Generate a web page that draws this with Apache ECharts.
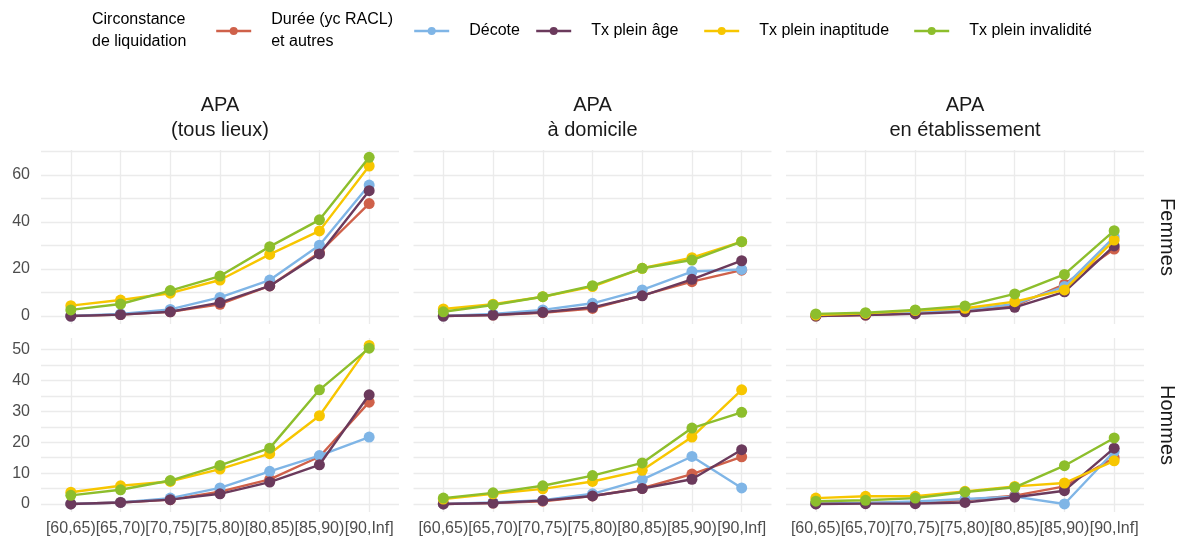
<!DOCTYPE html>
<html><head><meta charset="utf-8">
<script src="https://cdn.jsdelivr.net/npm/echarts@6/dist/echarts.min.js"></script>
<style>html,body{margin:0;padding:0;background:#fff}#c{width:1183px;height:545px}</style>
</head><body><div id="c"></div><script>
// ---- data ----
const categories = ["[60,65)","[65,70)","[70,75)","[75,80)","[80,85)","[85,90)","[90,Inf]"];
const seriesNames = ["Durée (yc RACL)\net autres","Décote","Tx plein âge","Tx plein inaptitude","Tx plein invalidité"];
const colTitles = ["APA\n(tous lieux)","APA\nà domicile","APA\nen établissement"];
const rowTitles = ["Femmes","Hommes"];
const femmesYTicks = [0,20,40,60];
const hommesYTicks = [0,10,20,30,40,50];

// order: Durée, Décote, Tx plein âge, Tx plein inaptitude, Tx plein invalidité
const femmesTousLieux = [
  [0, 0.6, 1.8, 5.0, 12.8, 27.0, 47.8],
  [0, 0.9, 2.8, 7.9, 15.3, 30.1, 55.7],
  [0, 0.6, 1.8, 5.7, 12.8, 26.4, 53.3],
  [4.4, 6.8, 9.7, 15.3, 26.2, 36.2, 63.8],
  [2.6, 5.1, 10.8, 17.0, 29.5, 40.9, 67.5]
];
const femmesDomicile = [
  [0, 0.4, 1.4, 3.2, 8.8, 14.6, 19.5],
  [0, 0.9, 2.6, 5.4, 11.1, 18.9, 19.8],
  [0, 0.4, 1.6, 3.7, 8.6, 15.6, 23.5],
  [3.0, 5.0, 8.2, 12.5, 20.3, 24.8, 31.6],
  [1.8, 4.7, 8.2, 12.9, 20.3, 23.8, 31.6]
];
const femmesEtablissement = [
  [0, 0.4, 1.1, 2.3, 4.3, 13.5, 28.5],
  [0.4, 1.1, 1.8, 2.6, 5.1, 12.5, 33.6],
  [0, 0.4, 0.9, 1.8, 3.7, 10.3, 29.8],
  [0.4, 1.1, 2.3, 3.3, 6.1, 11.1, 32.3],
  [0.9, 1.4, 2.6, 4.3, 9.4, 17.7, 36.3]
];
const hommesTousLieux = [
  [0, 0.5, 1.4, 4.0, 8.0, 15.3, 33.0],
  [0, 0.5, 1.9, 5.2, 10.6, 15.7, 21.7],
  [0, 0.5, 1.4, 3.3, 7.1, 12.7, 35.4],
  [3.8, 5.9, 7.3, 11.3, 16.3, 28.6, 51.4],
  [2.8, 4.6, 7.6, 12.5, 18.1, 37.0, 50.5]
];
const hommesDomicile = [
  [0, 0.3, 0.9, 2.6, 5.1, 9.7, 15.3],
  [0, 0.5, 1.2, 3.3, 7.9, 15.4, 5.2],
  [0, 0.3, 1.1, 2.6, 5.0, 8.0, 17.6],
  [1.6, 3.3, 4.9, 7.3, 10.9, 21.7, 37.0],
  [1.9, 3.6, 5.9, 9.2, 13.3, 24.6, 29.7]
];
const hommesEtablissement = [
  [0.1, 0.3, 0.5, 1.3, 2.7, 5.7, 15.0],
  [0.1, 0.3, 0.8, 1.6, 2.4, 0, 17.0],
  [0, 0.1, 0.1, 0.5, 2.2, 4.3, 18.1],
  [1.9, 2.5, 2.5, 4.1, 5.7, 6.8, 14.0],
  [0.9, 1.2, 1.9, 3.9, 5.4, 12.4, 21.4]
];

// ---- styles / layout ----
const colors = ["#CF614A","#7FB5E6","#6B3A5C","#F7C600","#8DBE2C"];
const FONT = "'Liberation Sans', Arial, sans-serif";
const panels = [femmesTousLieux, femmesDomicile, femmesEtablissement, hommesTousLieux, hommesDomicile, hommesEtablissement];
const colLeft = [41, 413.5, 786];
const panelW = 358, panelH = 174;
const rowTop = [150, 338];
const rowY = [
  {min:-3.4, max:70.6, grid:[0,10,20,30,40,50,60,70], labels:femmesYTicks},
  {min:-2.6, max:53.8, grid:[0,5,10,15,20,25,30,35,40,45,50], labels:hommesYTicks}
];
const catIdx = categories.map((c,i)=>i);

const grids=[], xAxes=[], yAxes=[], series=[];
panels.forEach((panel,p)=>{
  const r = Math.floor(p/3), c = p%3;
  grids.push({left:colLeft[c], top:rowTop[r], width:panelW, height:panelH, containLabel:false});
  xAxes.push({
    type:'value', gridIndex:p, min:-0.6, max:6.6,
    axisLine:{show:false},
    axisTick:{show:false, customValues:catIdx},
    splitLine:{show:true, lineStyle:{color:'#EBEBEB', width:1.3}},
    axisLabel:{show:r===1, customValues:catIdx, margin:9, fontSize:16, fontFamily:FONT, color:'#4D4D4D',
      formatter:(v)=>categories[Math.round(v)]}
  });
  yAxes.push({
    type:'value', gridIndex:p, min:rowY[r].min, max:rowY[r].max,
    axisLine:{show:false},
    axisTick:{show:false, customValues:rowY[r].grid},
    splitLine:{show:true, lineStyle:{color:'#EBEBEB', width:1.3}},
    axisLabel:{show:c===0, customValues:rowY[r].labels, margin:11, fontSize:16, fontFamily:FONT, color:'#4D4D4D'}
  });
  panel.forEach((vals,s)=>{
    series.push({
      type:'line', name:seriesNames[s], xAxisIndex:p, yAxisIndex:p,
      data: vals.map((v,i)=>[catIdx[i], v]),
      symbol:'circle', symbolSize:11, showSymbol:true,
      lineStyle:{color:colors[s], width:2.4},
      itemStyle:{color:colors[s]},
      emphasis:{disabled:true},
      z: 2+s
    });
  });
});

const legendLeft = [215, 413, 535, 703, 913];
const legends = seriesNames.map((n,i)=>({
  data:[n], left:legendLeft[i], top: n.indexOf('\n')>=0 ? 9 : 20,
  padding:0, itemWidth:35, itemHeight:10, itemGap:0,
  lineStyle:{width:2.4},
  textStyle:{fontSize:16, fontFamily:FONT, color:'#000', lineHeight:22, padding:[0,0,0,15]}
}));

const graphics = [
  {type:'text', x:92, y:9, style:{text:'Circonstance\nde liquidation', font:'16px '+FONT, fill:'#000', lineHeight:22, align:'left', verticalAlign:'top'}}
];
colTitles.forEach((t,c)=>{
  graphics.push({type:'text', x:colLeft[c]+panelW/2, y:92.5, style:{text:t, font:'20px '+FONT, fill:'#1A1A1A', lineHeight:25.5, align:'center', verticalAlign:'top'}});
});
rowTitles.forEach((t,r)=>{
  graphics.push({type:'text', x:1167, y:rowTop[r]+panelH/2, rotation:-Math.PI/2, style:{text:t, font:'20px '+FONT, fill:'#1A1A1A', align:'center', verticalAlign:'middle'}});
});

const chart = echarts.init(document.getElementById('c'), null, {renderer:'canvas'});
chart.setOption({
  animation:false,
  backgroundColor:'#fff',
  color:colors,
  grid:grids, xAxis:xAxes, yAxis:yAxes, series:series,
  legend:legends,
  graphic:graphics
});
</script></body></html>
